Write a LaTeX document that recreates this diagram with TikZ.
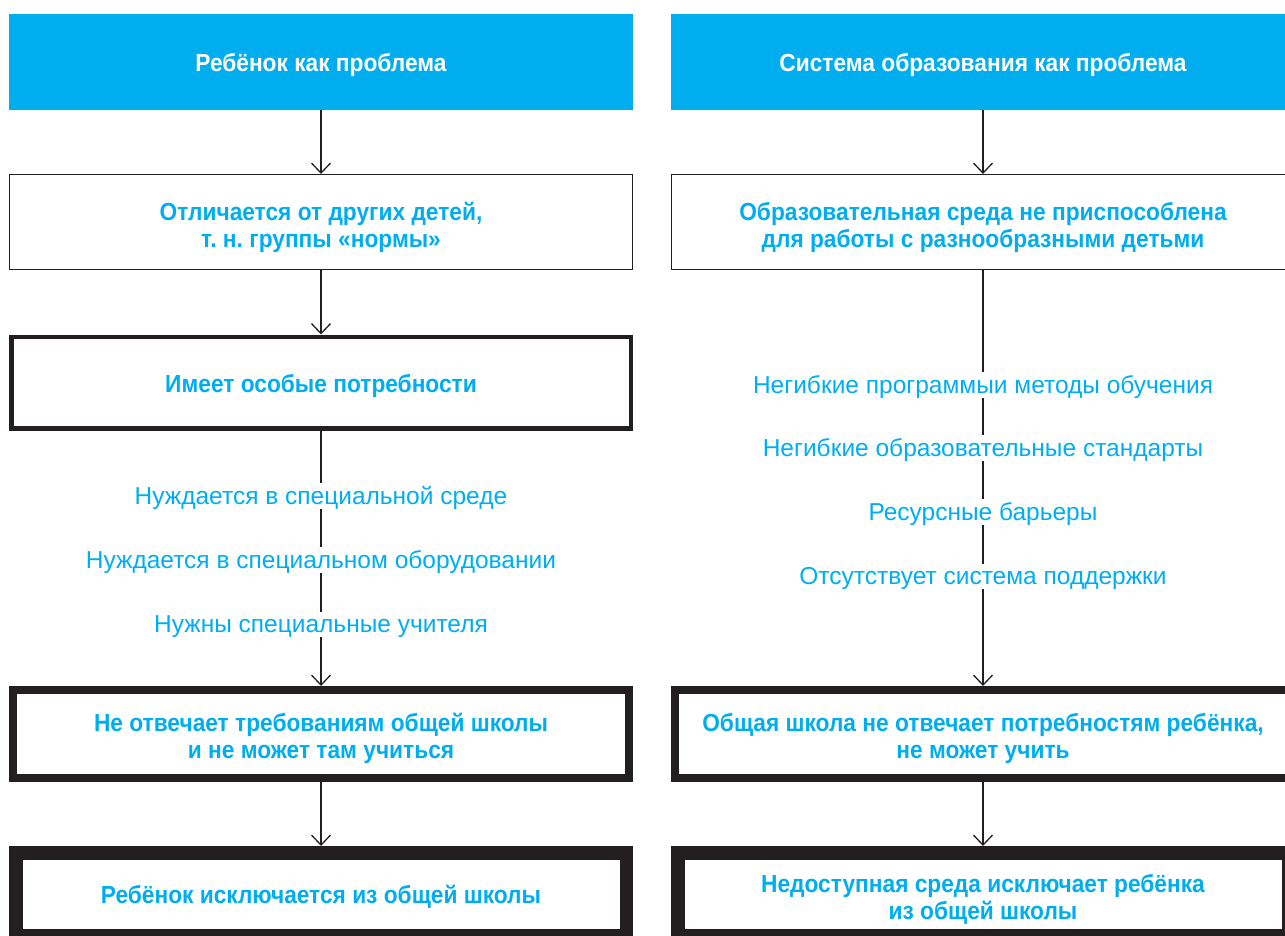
\documentclass[tikz,border=0pt]{standalone}
\usepackage{fontspec}
\setmainfont{Liberation Sans}
\newfontfamily\bnfont{Liberation Sans Bold}[FakeStretch=0.92]
\usetikzlibrary{arrows.meta}
\frenchspacing
\definecolor{cyanP}{HTML}{00AEEF}
\definecolor{inkP}{HTML}{231F20}
\tikzset{
  every node/.style={inner sep=0pt},
  headbox/.style={fill=cyanP, minimum width=624pt, minimum height=96pt},
  basebox/.style={draw=inkP, fill=white},
  thinbox/.style={basebox, line width=1pt, minimum width=623pt, minimum height=95pt},
  midbox/.style={basebox, line width=4.5pt, minimum width=619.5pt, minimum height=91.5pt},
  thickbox/.style={basebox, line width=8pt, minimum width=616pt, minimum height=88pt},
  heavybox/.style={basebox, line width=13.5pt, minimum width=610.5pt, minimum height=82.5pt},
  btext/.style={text=cyanP, align=center, font=\bnfont\fontsize{24.7}{27}\selectfont\frenchspacing},
  htext/.style={btext, text=white},
  itemtext/.style={text=cyanP, font=\fontsize{24.5}{28}\selectfont, text height=18.5pt, text depth=2.5pt, inner ysep=2pt},
  conn/.style={draw=inkP, line width=1.3pt},
  arr/.style={conn, -{Straight Barb[length=10pt, width=19pt, line width=1.3pt]}}
}
\begin{document}
\begin{tikzpicture}[x=1pt,y=-1pt]
\useasboundingbox (0,0) rectangle (1285,935);
% left column
\node[headbox] (lh) at (321,62) {};
\node[htext] (lht) at ([yshift=-3pt]lh.center) {Ребёнок как проблема};
\node[thinbox] (l2) at (321,222) {};
\node[btext] (l2t) at ([yshift=-5pt]l2.center) {Отличается от других детей,\\т. н. группы «нормы»};
\node[midbox] (l3) at (321,382.5) {};
\node[btext] (l3t) at ([yshift=-3pt]l3.center) {Имеет особые потребности};
\node[itemtext] (lt1) at (321,496) {Нуждается в специальной среде};
\node[itemtext] (lt2) at (321,560) {Нуждается в специальном оборудовании};
\node[itemtext] (lt3) at (321,624.5) {Нужны специальные учителя};
\node[thickbox] (l4) at (321,734) {};
\node[btext] (l4t) at ([yshift=-4.5pt]l4.center) {Не отвечает требованиям общей школы\\и не может там учиться};
\node[heavybox] (l5) at (321,894) {};
\node[btext] (l5t) at ([yshift=-3pt]l5.center) {Ребёнок исключается из общей школы};
% right column
\node[headbox] (rh) at (983,62) {};
\node[htext] (rht) at ([yshift=-3pt]rh.center) {Система образования как проблема};
\node[thinbox] (r2) at (983,222) {};
\node[btext] (r2t) at ([yshift=-5pt]r2.center) {Образовательная среда не приспособлена\\для работы с разнообразными детьми};
\node[itemtext] (rt1) at (983,385) {Негибкие программыи методы обучения};
\node[itemtext] (rt2) at (983,448) {Негибкие образовательные стандарты};
\node[itemtext] (rt3) at (983,512) {Ресурсные барьеры};
\node[itemtext] (rt4) at (983,576.5) {Отсутствует система поддержки};
\node[thickbox] (r4) at (983,734) {};
\node[btext] (r4t) at ([yshift=-4.5pt]r4.center) {Общая школа не отвечает потребностям ребёнка,\\не может учить};
\node[heavybox] (r5) at (983,894) {};
\node[btext] (r5t) at ([yshift=-5pt]r5.center) {Недоступная среда исключает ребёнка\\из общей школы};
% connectors left
\draw[arr] (lh.south) -- (l2.north);
\draw[arr] (l2.south) -- (l3.north);
\draw[conn] (l3.south) -- (lt1.north);
\draw[conn] (lt1.south) -- (lt2.north);
\draw[conn] (lt2.south) -- (lt3.north);
\draw[arr] (lt3.south) -- (l4.north);
\draw[arr] (l4.south) -- (l5.north);
% connectors right
\draw[arr] (rh.south) -- (r2.north);
\draw[conn] (r2.south) -- (rt1.north);
\draw[conn] (rt1.south) -- (rt2.north);
\draw[conn] (rt2.south) -- (rt3.north);
\draw[conn] (rt3.south) -- (rt4.north);
\draw[arr] (rt4.south) -- (r4.north);
\draw[arr] (r4.south) -- (r5.north);
\end{tikzpicture}
\end{document}
